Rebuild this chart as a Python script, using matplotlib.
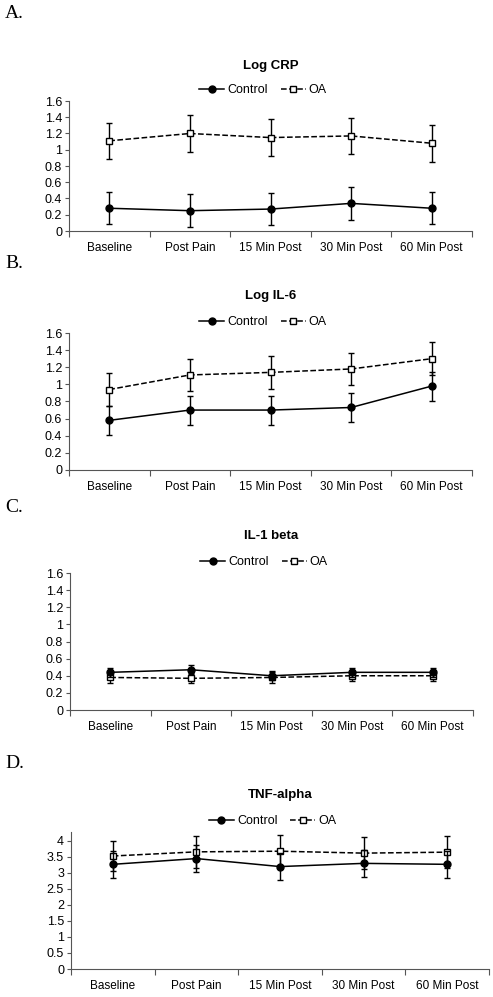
import numpy as np
import matplotlib
matplotlib.use("Agg")
from matplotlib import pyplot as plt
from matplotlib.lines import Line2D

plt.rcParams['font.family'] = ['Liberation Sans', 'DejaVu Sans']

### Data
times = ['Baseline', 'Post Pain', '15 Min Post', '30 Min Post', '60 Min Post']

crp_ctrl = [0.28, 0.25, 0.27, 0.34, 0.28]
crp_ctrl_err = [0.20, 0.20, 0.20, 0.20, 0.20]
crp_oa = [1.11, 1.20, 1.15, 1.17, 1.08]
crp_oa_err = [0.225, 0.23, 0.23, 0.225, 0.225]

il6_ctrl = [0.58, 0.70, 0.70, 0.73, 0.98]
il6_ctrl_err = [0.17, 0.17, 0.17, 0.17, 0.17]
il6_oa = [0.94, 1.11, 1.14, 1.18, 1.30]
il6_oa_err = [0.19, 0.19, 0.19, 0.19, 0.19]

il1_ctrl = [0.44, 0.47, 0.40, 0.44, 0.44]
il1_ctrl_err = [0.05, 0.05, 0.05, 0.05, 0.05]
il1_oa = [0.38, 0.37, 0.38, 0.40, 0.40]
il1_oa_err = [0.06, 0.06, 0.06, 0.06, 0.06]

tnf_ctrl = [3.27, 3.45, 3.20, 3.30, 3.27]
tnf_ctrl_err = [0.42, 0.42, 0.42, 0.42, 0.42]
tnf_oa = [3.53, 3.66, 3.68, 3.62, 3.65]
tnf_oa_err = [0.48, 0.50, 0.50, 0.50, 0.50]

W, H = 493., 997.
fig = plt.figure(figsize=(W/100., H/100.), dpi=100)

ctrl_style = dict(color='black', ls='-', lw=1.1, marker='o', ms=5,
                  mfc='black', mec='black')
oa_style = dict(color='black', ls='--', lw=1.1, marker='s', ms=4.5,
                mfc='white', mec='black', mew=1)


def panel(letter, letter_y, title, title_y, leg_y, box, ctrl, ctrl_err, oa, oa_err,
          ylim, yticks, ylabels):
    left, right, top, bottom = box
    ax = fig.add_axes([left/W, 1 - bottom/H, (right-left)/W, (bottom-top)/H])
    x = np.arange(len(times))
    ax.errorbar(x, oa, yerr=oa_err, capsize=2.5, elinewidth=1, zorder=3, **oa_style)
    ax.errorbar(x, ctrl, yerr=ctrl_err, capsize=2.5, elinewidth=1, zorder=4, **ctrl_style)
    ax.set_xlim(-0.5, len(times) - 0.5)
    ax.set_ylim(*ylim)
    ax.set_yticks(yticks)
    ax.set_yticklabels(ylabels, fontsize=9)
    ax.set_xticks(np.arange(-0.5, len(times)), [''] * (len(times) + 1))
    ax.set_xticks(x, times, minor=True, fontsize=8.5)
    ax.tick_params(axis='x', which='major', length=4, width=0.8, colors='#555555')
    ax.tick_params(axis='x', which='minor', length=0, pad=8, labelcolor='black')
    ax.tick_params(axis='y', length=3, width=0.8, color='#555555', pad=2)
    for s in ['top', 'right']:
        ax.spines[s].set_visible(False)
    for s in ['left', 'bottom']:
        ax.spines[s].set_color('#555555')
        ax.spines[s].set_linewidth(0.8)

    fig.text(5/W, 1 - letter_y/H, letter, family='Liberation Serif', fontsize=14,
             va='center', ha='left')
    fig.text((left + right)/2/W, 1 - title_y/H, title, fontsize=9.5, weight='bold',
             ha='center', va='center')
    handles = [Line2D([], [], **ctrl_style), Line2D([], [], **oa_style)]
    fig.legend(handles, ['Control', 'OA'], loc='center',
               bbox_to_anchor=((left + right)/2/W - 0.015, 1 - leg_y/H),
               ncol=2, frameon=False, fontsize=9, handlelength=2.0,
               columnspacing=1.0, handletextpad=0.25, borderaxespad=0)
    return ax


small = [0, 0.2, 0.4, 0.6, 0.8, 1, 1.2, 1.4, 1.6]
small_lab = ['0', '0.2', '0.4', '0.6', '0.8', '1', '1.2', '1.4', '1.6']

panel('A.', 14, 'Log CRP', 66, 90, (69, 472, 101, 231),
      crp_ctrl, crp_ctrl_err, crp_oa, crp_oa_err, (0, 1.6), small, small_lab)
panel('B.', 264, 'Log IL-6', 296, 322, (69, 472, 333, 470),
      il6_ctrl, il6_ctrl_err, il6_oa, il6_oa_err, (0, 1.6), small, small_lab)
panel('C.', 507, 'IL-1 beta', 536, 562, (70, 473, 573, 710),
      il1_ctrl, il1_ctrl_err, il1_oa, il1_oa_err, (0, 1.6), small, small_lab)
big = [0, 0.5, 1, 1.5, 2, 2.5, 3, 3.5, 4]
big_lab = ['0', '0.5', '1', '1.5', '2', '2.5', '3', '3.5', '4']
panel('D.', 763, 'TNF-alpha', 795, 821, (71, 489, 832, 969),
      tnf_ctrl, tnf_ctrl_err, tnf_oa, tnf_oa_err, (0, 4.28), big, big_lab)

fig.savefig('out.png', dpi=100)
